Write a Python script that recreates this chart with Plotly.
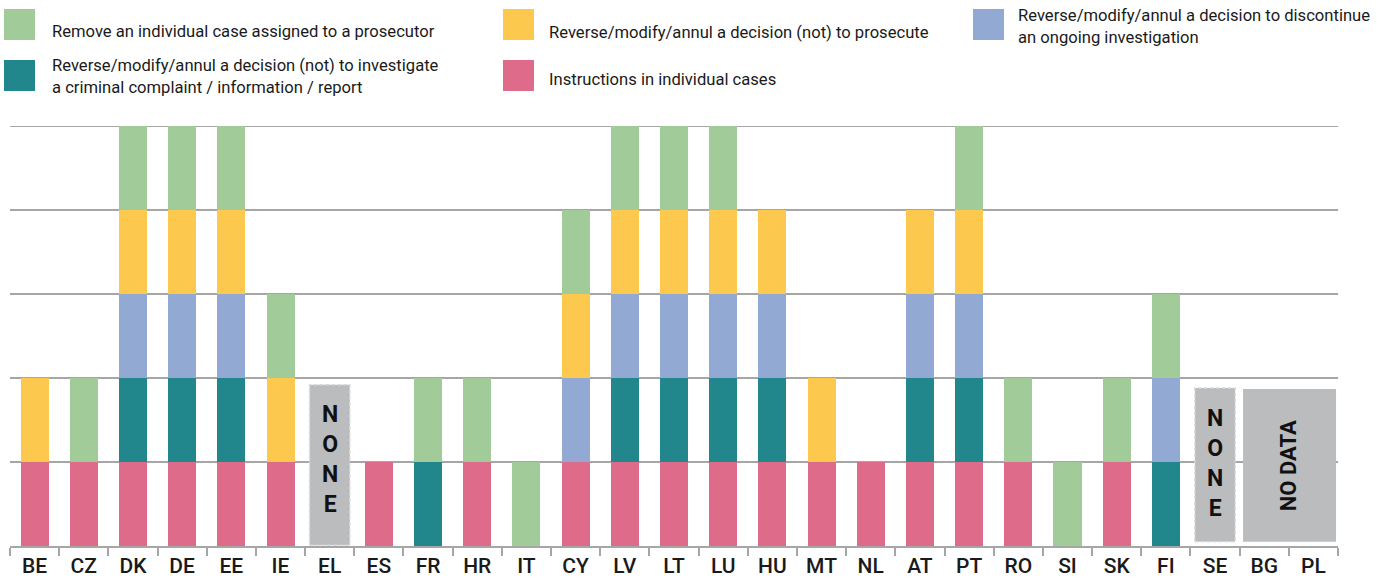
import plotly.graph_objects as go

# Member States in display order
countries = ["BE", "CZ", "DK", "DE", "EE", "IE", "EL", "ES", "FR", "HR", "IT", "CY", "LV",
             "LT", "LU", "HU", "MT", "NL", "AT", "PT", "RO", "SI", "SK", "FI", "SE", "BG", "PL"]

# One unit per power held by the executive (1 = yes, 0 = no)
instructions = [1, 1, 1, 1, 1, 1, 0, 1, 0, 1, 0, 1, 1, 1, 1, 1, 1, 1, 1, 1, 1, 0, 1, 0, 0, 0, 0]
investigate = [0, 0, 1, 1, 1, 0, 0, 0, 1, 0, 0, 0, 1, 1, 1, 1, 0, 0, 1, 1, 0, 0, 0, 1, 0, 0, 0]
discontinue = [0, 0, 1, 1, 1, 0, 0, 0, 0, 0, 0, 1, 1, 1, 1, 1, 0, 0, 1, 1, 0, 0, 0, 1, 0, 0, 0]
prosecute = [1, 0, 1, 1, 1, 1, 0, 0, 0, 0, 0, 1, 1, 1, 1, 1, 1, 0, 1, 1, 0, 0, 0, 0, 0, 0, 0]
remove_case = [0, 1, 1, 1, 1, 1, 0, 0, 1, 1, 1, 1, 1, 1, 1, 0, 0, 0, 0, 1, 1, 1, 1, 1, 0, 0, 0]

series_names = [
    "Instructions in individual cases",
    "Reverse/modify/annul a decision (not) to investigate<br>a criminal complaint / information / report",
    "Reverse/modify/annul a decision to discontinue<br>an ongoing investigation",
    "Reverse/modify/annul a decision (not) to prosecute",
    "Remove an individual case assigned to a prosecutor",
]
series_values = [instructions, investigate, discontinue, prosecute, remove_case]
series_colors = ["#DF6B8A", "#22878C", "#92A9D4", "#FDC84E", "#A1CC9A"]

FONT = "Roboto"
TEXT = "#1a1a1a"
GRID = "#a6a6a6"
BOX = "#BBBCBE"
Y_MAX = 5

fig = go.Figure()
for name, vals, col in zip(series_names, series_values, series_colors):
    fig.add_trace(go.Bar(
        x=countries, y=vals, name=name, marker=dict(color=col, line=dict(width=0)),
        width=0.57, showlegend=False,
    ))

shapes = []
annotations = []

# Top gridline at the upper end of the value range
shapes.append(dict(type="line", xref="paper", yref="y", x0=0, x1=1, y0=Y_MAX, y1=Y_MAX,
                   line=dict(color=GRID, width=2), layer="below"))

# Grey boxes for "NONE" and "NO DATA"
for cx, y0, y1, ty in [(countries.index("EL"), 0.01, 1.92, 1.03), (countries.index("SE"), 0.05, 1.88, 0.98)]:
    shapes.append(dict(type="rect", xref="x", yref="y", x0=cx - 0.41, x1=cx + 0.41, y0=y0, y1=y1,
                       fillcolor=BOX, line=dict(color="#d9d9d9", width=1.5, dash="dot"), layer="above"))
    annotations.append(dict(xref="x", yref="y", x=cx, y=ty, text="<b>N<br>O<br>N<br>E</b>",
                            showarrow=False, font=dict(family=FONT, size=23, color="#111")))
i_bg, i_pl = countries.index("BG"), countries.index("PL")
shapes.append(dict(type="rect", xref="x", yref="y", x0=i_bg - 0.43, x1=i_pl + 0.46, y0=0.05, y1=1.87,
                   fillcolor=BOX, line=dict(width=0), layer="above"))
annotations.append(dict(xref="x", yref="y", x=(i_bg + i_pl) / 2, y=0.96, text="<b>NO DATA</b>",
                        textangle=-90, showarrow=False, font=dict(family=FONT, size=22, color="#111")))

# Legend drawn as squares with labels, in three columns
legend_items = [
    (4, 9, 40, 50, 32, series_names[4], series_colors[4]),
    (4, 60, 91, 50, 76, series_names[1], series_colors[1]),
    (503, 9, 40, 547, 33, series_names[3], series_colors[3]),
    (503, 60, 91, 547, 80, series_names[0], series_colors[0]),
    (973, 9, 40, 1016, 27, series_names[2], series_colors[2]),
]
W, H = 1383, 578
PW, PH, PL_, PB = W - 55, 420, 10, 546
for sx, sy0, sy1, tx, ty, label, col in legend_items:
    shapes.append(dict(type="rect", xref="paper", yref="paper",
                       x0=(sx - PL_) / PW, x1=(sx + 31 - PL_) / PW,
                       y0=(PB - sy1) / PH, y1=(PB - sy0) / PH,
                       fillcolor=col, line=dict(width=0)))
    annotations.append(dict(xref="paper", yref="paper", x=(tx - PL_) / PW, y=(PB - ty) / PH,
                            xanchor="left", yanchor="middle", align="left", text=label, showarrow=False,
                            font=dict(family=FONT, size=16.6, color=TEXT)))

fig.update_layout(
    width=W, height=H,
    margin=dict(l=10, r=45, t=126, b=32),
    barmode="stack", bargap=0.43,
    plot_bgcolor="white", paper_bgcolor="white",
    shapes=shapes, annotations=annotations,
    xaxis=dict(
        type="category", showgrid=False, showline=True, linecolor=GRID, linewidth=2,
        ticks="outside", tickson="boundaries", ticklen=8, tickcolor=GRID, tickwidth=1.5,
        tickfont=dict(family=FONT, size=21, color=TEXT, weight=500), range=[-0.5, len(countries) - 0.5],
        automargin=False,
    ),
    yaxis=dict(
        range=[0, Y_MAX], dtick=1, showgrid=True, gridcolor=GRID, gridwidth=2, zeroline=False,
        showticklabels=False, automargin=False,
    ),
)

fig.write_html("out.html")
